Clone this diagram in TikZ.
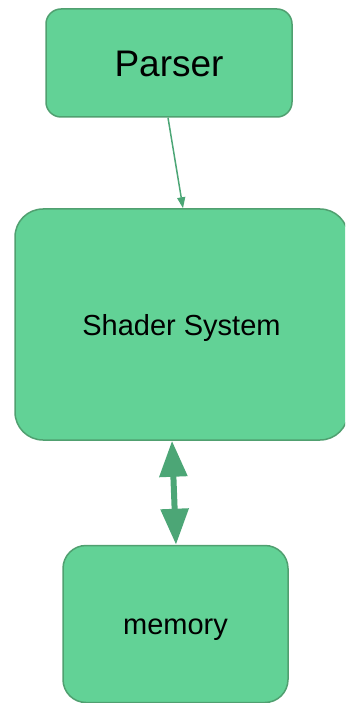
\documentclass[tikz,border=0pt]{standalone}
\usepackage{fontspec}
\setmainfont{Liberation Sans}
\usetikzlibrary{arrows.meta,calc}

\definecolor{boxfill}{RGB}{98,210,150}
\definecolor{boxline}{RGB}{80,160,112}
\definecolor{linkgreen}{RGB}{76,166,118}

\tikzset{
  block/.style={draw=boxline, fill=boxfill, line width=1.5pt,
    inner sep=0pt, text depth=0pt, text=black},
  thinlink/.style={draw=linkgreen, line width=1.5pt,
    -{Triangle[length=11pt,width=8pt]}},
  thicklink/.style={draw=linkgreen, line width=6pt,
    {Triangle[length=36pt,width=27pt]}-{Triangle[length=36pt,width=27pt]}}
}

\begin{document}
\begin{tikzpicture}[x=1pt,y=-1pt]
  \useasboundingbox (0,0) rectangle (345,703);
  \clip (0,0) rectangle (345,703);

  % three stages of the pipeline
  \node[block, rounded corners=15pt, minimum width=246pt, minimum height=108pt,
        font=\fontsize{37}{44}\selectfont, text height=28pt]
    (parser) at (169,63) {Parser};
  \node[block, rounded corners=28pt, minimum width=333pt, minimum height=231pt,
        font=\fontsize{29}{35}\selectfont, text height=21pt]
    (shader) at (181.5,324.5) {Shader System};
  \node[block, rounded corners=23pt, minimum width=225pt, minimum height=157pt,
        font=\fontsize{29}{35}\selectfont, text height=20pt]
    (memory) at (175.5,624) {memory};

  % connectors
  \draw[thinlink] ([xshift=-1pt]parser.south) -- ([xshift=1.5pt]shader.north);
  \draw[thicklink] ([xshift=-9.5pt]shader.south) -- ([xshift=0.5pt]memory.north);
\end{tikzpicture}
\end{document}
